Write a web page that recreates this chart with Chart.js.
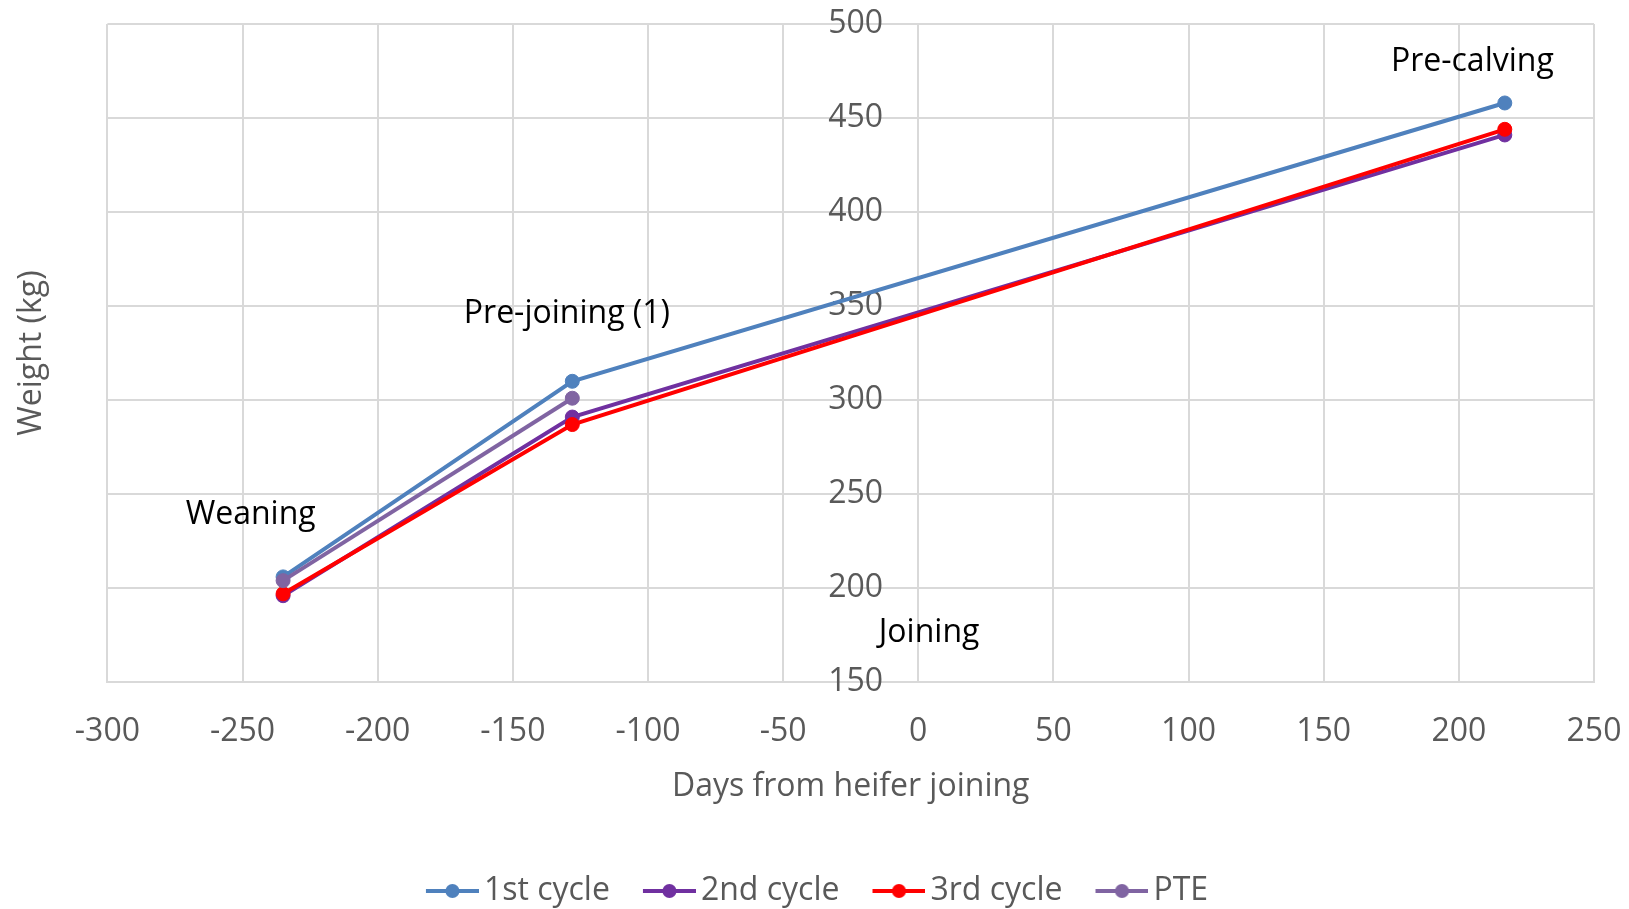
<!DOCTYPE html>
<html>
<head>
<meta charset="utf-8">
<script src="https://cdn.jsdelivr.net/npm/chart.js@4/dist/chart.umd.min.js"></script>
<style>
  html, body { margin: 0; padding: 0; background: #fff; }
  #wrap { width: 1629px; height: 909px; }
</style>
</head>
<body>
<div id="wrap"><canvas id="weightChart" width="1629" height="909"></canvas></div>
<script>
// Data
const stageDays = [-235, -128, 217];
const cycle1 = [206, 310, 458];
const cycle2 = [196, 291, 441];
const cycle3 = [197, 287, 444];
const pteDays = [-235, -128];
const pte = [204, 301];

const seriesNames = ['1st cycle', '2nd cycle', '3rd cycle', 'PTE'];
const seriesColors = ['#4f81bd', '#7030a0', '#ff0000', '#8064a2'];

// Stage labels (text placed at data coordinates)
const stageLabels = ['Weaning', 'Pre-joining (1)', 'Joining', 'Pre-calving'];
const stageLabelDays = [-247, -130, 4, 205];
const stageLabelWeights = [239, 346, 176, 480];

const xTicks = { min: -300, max: 250, step: 50 };
const yTicks = { min: 150, max: 500, step: 50 };

const FONT = "'Open Sans', 'DejaVu Sans', sans-serif";
const GREY = '#595959';
const GRID = '#d9d9d9';

function points(xs, ys) {
    return xs.map((x, i) => ({ x: x, y: ys[i] }));
}

// Legend marker: short line with a dot, drawn at the right end of a wider transparent canvas
function makeLegendMarker(color) {
    const c = document.createElement('canvas');
    c.width = 95;
    c.height = 16;
    const g = c.getContext('2d');
    g.strokeStyle = color;
    g.lineWidth = 4;
    g.beginPath();
    g.moveTo(42, 8);
    g.lineTo(95, 8);
    g.stroke();
    g.fillStyle = color;
    g.beginPath();
    g.arc(68.5, 8, 7, 0, Math.PI * 2);
    g.fill();
    return c;
}
const legendMarkers = seriesColors.map(makeLegendMarker);

const stageLabelPlugin = {
    id: 'stageLabels',
    afterDatasetsDraw(chart) {
        const ctx = chart.ctx;
        const xs = chart.scales.x;
        const ys = chart.scales.y;
        ctx.save();
        ctx.font = '32px ' + FONT;
        ctx.fillStyle = '#000';
        ctx.textAlign = 'center';
        ctx.textBaseline = 'middle';
        stageLabels.forEach((txt, i) => {
            ctx.fillText(txt, xs.getPixelForValue(stageLabelDays[i]), ys.getPixelForValue(stageLabelWeights[i]));
        });
        ctx.restore();
    }
};

// labels may overflow the plot area, so drop the extra padding the scales ask for
function noScalePadding(scale) {
    scale.paddingTop = 0;
    scale.paddingBottom = 0;
    scale.paddingLeft = 0;
    scale.paddingRight = 0;
}

function makeDataset(i, xs, ys, order) {
    return {
        label: seriesNames[i],
        data: points(xs, ys),
        borderColor: seriesColors[i],
        backgroundColor: seriesColors[i],
        pointBackgroundColor: seriesColors[i],
        pointBorderColor: seriesColors[i],
        borderWidth: 4,
        pointRadius: 7,
        pointBorderWidth: 1,
        tension: 0,
        order: order
    };
}

const ctx = document.getElementById('weightChart').getContext('2d');
new Chart(ctx, {
    type: 'line',
    data: {
        datasets: [
            makeDataset(0, stageDays, cycle1, 4),
            makeDataset(1, stageDays, cycle2, 3),
            makeDataset(2, stageDays, cycle3, 2),
            makeDataset(3, pteDays, pte, 1)
        ]
    },
    options: {
        responsive: false,
        animation: false,
        devicePixelRatio: 1,
        layout: { padding: { left: 9, right: 35, top: 24, bottom: -8 } },
        plugins: {
            tooltip: { enabled: false },
            legend: {
                position: 'bottom',
                labels: {
                    usePointStyle: true,
                    pointStyleWidth: 73,
                    boxHeight: 16,
                    padding: 2,
                    color: GREY,
                    font: { family: FONT, size: 32 },
                    generateLabels(chart) {
                        const items = Chart.defaults.plugins.legend.labels.generateLabels(chart);
                        items.forEach(item => { item.pointStyle = legendMarkers[item.datasetIndex]; });
                        return items.sort((a, b) => a.datasetIndex - b.datasetIndex);
                    }
                }
            }
        },
        scales: {
            x: {
                type: 'linear',
                min: xTicks.min,
                max: xTicks.max,
                afterFit: noScalePadding,
                ticks: { stepSize: xTicks.step, color: GREY, font: { family: FONT, size: 32 }, padding: 30, maxRotation: 0 },
                grid: { color: GRID, lineWidth: 2, drawTicks: false },
                border: { color: GRID, width: 2 },
                title: {
                    display: true,
                    text: 'Days from heifer joining',
                    color: GREY,
                    font: { family: FONT, size: 32 },
                    padding: { top: -13, bottom: 67 }
                }
            },
            y: {
                type: 'linear',
                // labels sit just left of the 0-day line, the 0 grid line is the axis line
                position: { x: -13 },
                min: yTicks.min,
                max: yTicks.max,
                afterFit: noScalePadding,
                ticks: { stepSize: yTicks.step, color: GREY, font: { family: FONT, size: 32 } },
                grid: { color: GRID, lineWidth: 2, drawTicks: false },
                border: { display: false }
            },
            yTitle: {
                type: 'linear',
                axis: 'y',
                position: 'left',
                min: yTicks.min,
                max: yTicks.max,
                afterFit: noScalePadding,
                ticks: { display: false },
                grid: { display: false, drawTicks: false },
                border: { display: false },
                title: {
                    display: true,
                    text: 'Weight (kg)',
                    color: GREY,
                    font: { family: FONT, size: 32 },
                    padding: { top: 4, bottom: 56 }
                }
            }
        }
    },
    plugins: [stageLabelPlugin]
});
</script>
</body>
</html>
